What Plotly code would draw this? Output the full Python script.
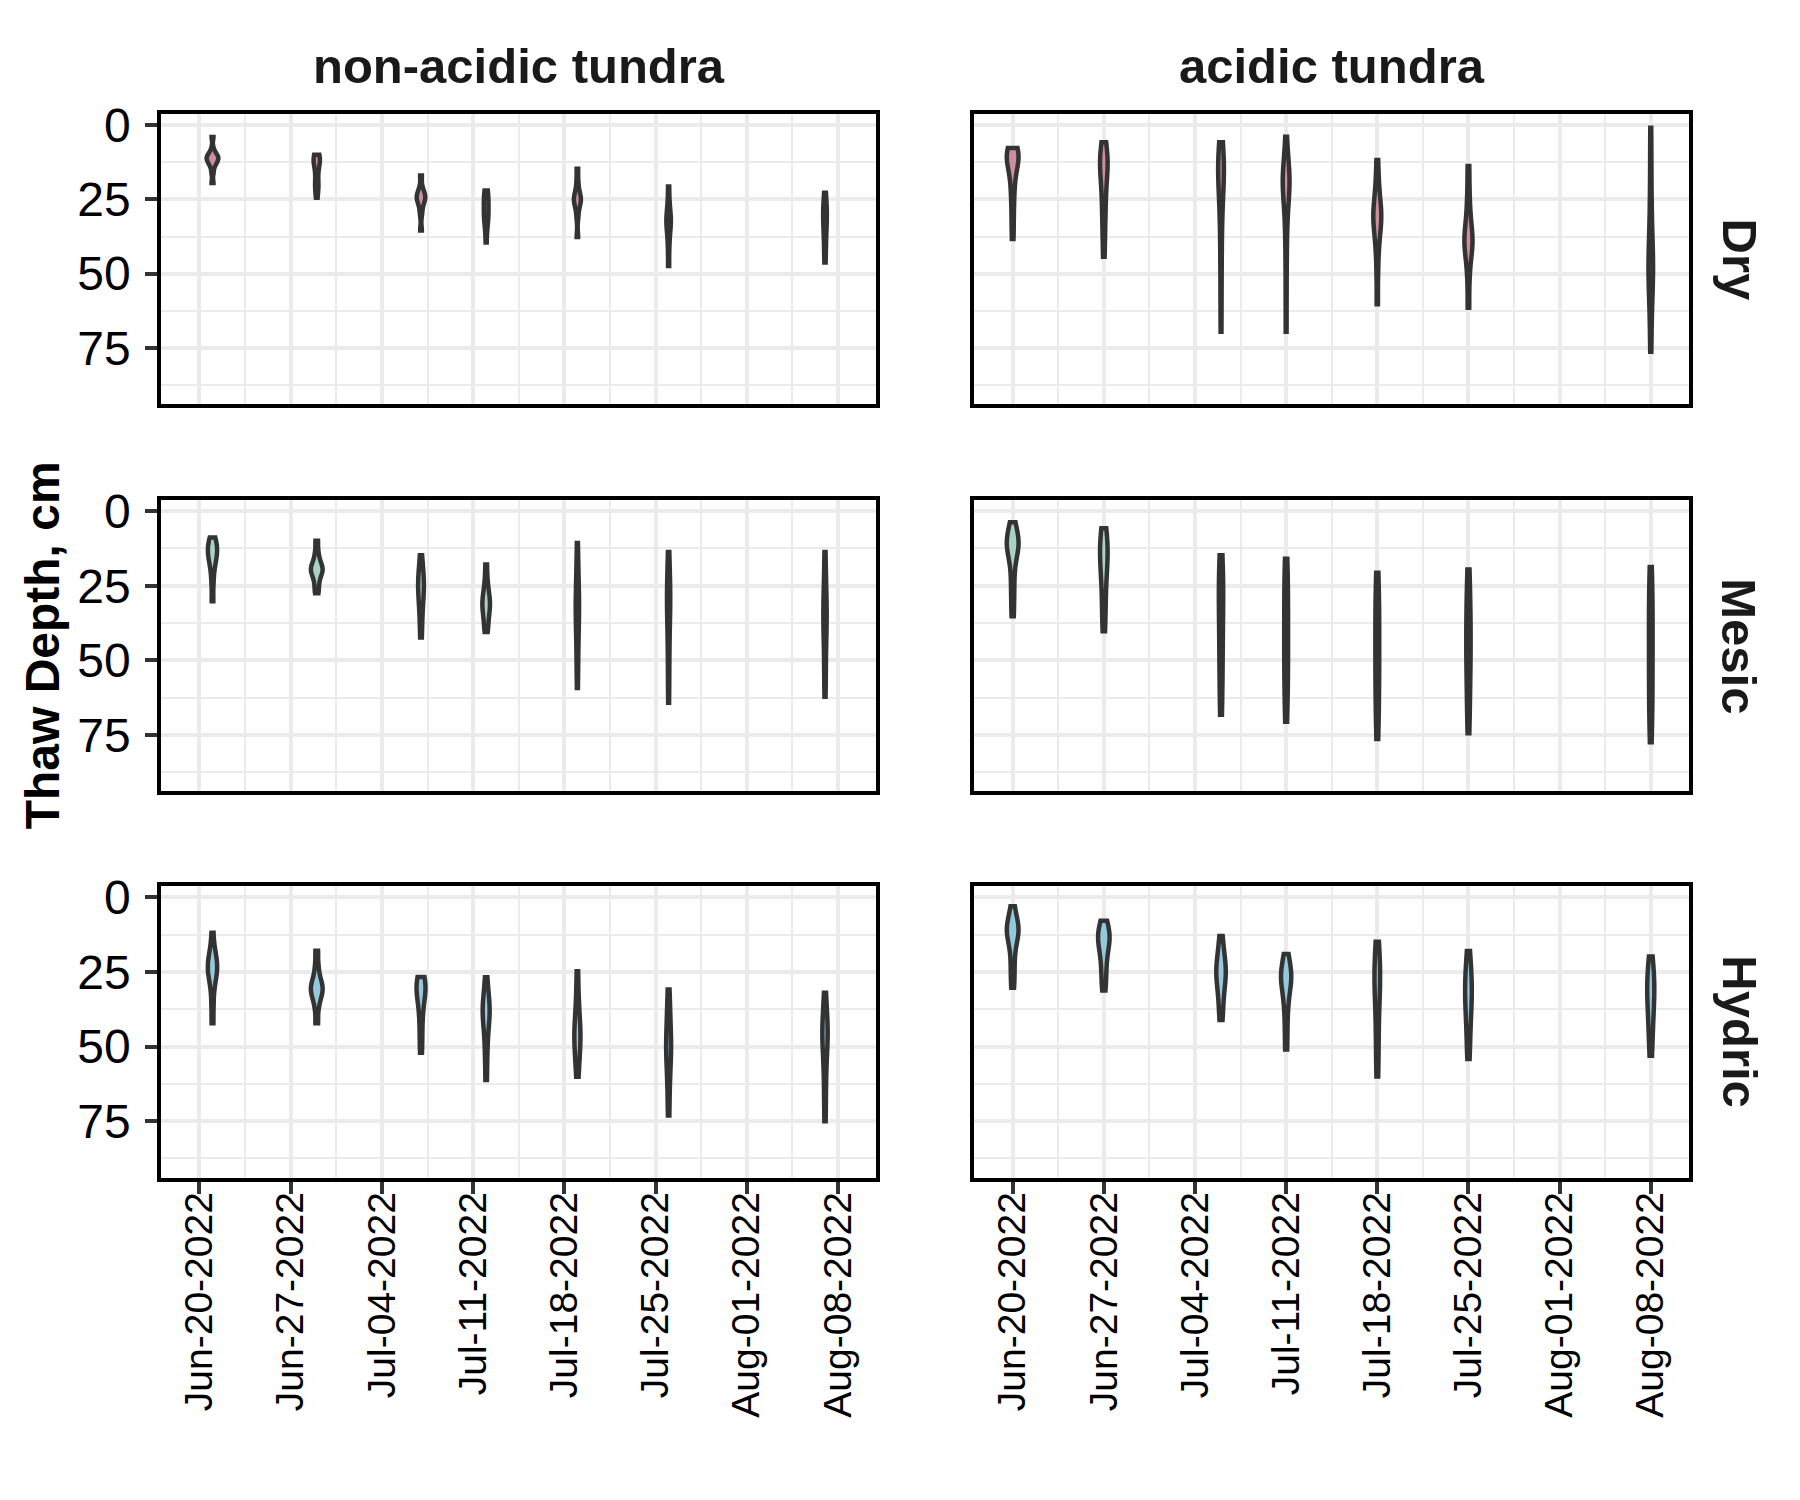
import numpy as np
import plotly.graph_objects as go

# Thaw depth (cm) per sampling date.
# Columns: non-acidic tundra (left) and acidic tundra (right); rows: Dry, Mesic, Hydric.

dates_nonacidic = ["2022-06-21", "2022-06-29", "2022-07-07", "2022-07-12",
                   "2022-07-19", "2022-07-26", "2022-08-07"]
dates_acidic = ["2022-06-20", "2022-06-27", "2022-07-06", "2022-07-11",
                "2022-07-18", "2022-07-25", "2022-08-08"]

dry_nonacidic = [
    [4, 8, 9.5, 10, 10.5, 11, 11, 11.5, 12, 12.5, 13, 14, 16, 19.5],
    [10, 10.5, 11, 11, 11.5, 12, 12.5, 13, 14, 17, 19, 20, 21, 22, 24.5],
    [17, 21, 22.5, 23.5, 24, 24.5, 25, 26, 27.5, 30, 35.5],
    [22, 23, 24, 25.5, 27, 28.5, 30, 31, 32.5, 34, 39.5],
    [14.7, 19, 22, 23.5, 24.5, 25, 25.5, 26.5, 28, 31, 37.7],
    [20.7, 26, 29, 31, 32, 33, 34.5, 37, 41, 47.4],
    [22.8, 26, 28, 29.5, 31, 33, 35, 38, 42, 46.2],
]
dry_acidic = [
    [7.7, 8, 8.5, 9, 9.5, 10, 10.5, 11, 12, 13, 14, 16, 18, 21, 24, 28, 33, 38.3],
    [5.8, 9, 10, 11, 11.5, 12, 13, 14, 16, 18, 21, 24, 27, 30, 34, 39, 44.3],
    [5.8, 8, 10, 12, 13, 14, 15, 17, 19, 21, 24, 28, 33, 40, 48, 58, 69.5],
    [3.9, 10, 13, 15, 16.5, 18, 19, 20, 21, 22.5, 25, 28, 32, 38, 46, 57, 69.5],
    [11.8, 18, 22, 25, 27, 29, 30, 31, 32.5, 34, 36, 39, 43, 50, 60.3],
    [13.8, 22, 28, 32, 35, 37, 38.5, 39.5, 41, 43, 46, 52, 61.5],
    [0.9, 12, 22, 30, 36, 40, 44, 46, 48, 50, 52, 55, 60, 67, 76.3],
]
mesic_nonacidic = [
    [8.8, 10, 11, 12, 13, 14, 15, 16, 17.5, 20, 24, 30.2],
    [9.9, 14, 16.5, 18, 19, 19.5, 20, 21, 22.5, 25, 27.5],
    [14.8, 19, 21, 23, 24.5, 26, 28, 30, 33, 37, 42.3],
    [17.9, 23, 26, 28, 29.5, 30.5, 31.5, 32.5, 34, 36, 38.5, 40.5],
    [10.7, 18, 23, 27, 30, 32, 34, 37, 41, 46, 52, 59.2],
    [13.7, 19, 23, 26, 28, 30, 32, 35, 39, 44, 50, 57, 64.2],
    [13.7, 20, 25, 29, 32, 34, 36, 38, 41, 45, 51, 56, 62.2],
]
mesic_acidic = [
    [3.7, 6, 8, 9.5, 10.5, 11, 12, 13.5, 15.5, 19, 24, 29, 35.2],
    [5.7, 8, 10, 12, 14, 16, 18, 21, 25, 30, 35, 40.2],
    [14.8, 17, 21, 23, 27, 29, 33, 35, 41, 44, 49, 52, 59, 63, 68.2],
    [15.9, 19, 24, 27, 32, 35, 41, 44, 47, 53, 55, 61, 64, 70.5],
    [20.6, 24, 30, 33, 36, 42, 44, 50, 53, 56, 62, 65, 71, 76.3],
    [19.5, 23, 29, 32, 35, 39, 43, 45, 47, 52, 55, 58, 65, 68, 74.4],
    [18.7, 24, 27, 30, 36, 38, 43, 46, 52, 54, 60, 62, 68, 71, 77.4],
]
hydric_nonacidic = [
    [11.9, 17, 19, 20.5, 22, 23, 24, 25, 26.5, 28, 31, 36, 42.2],
    [17.9, 23, 26.5, 28.5, 29.5, 30.5, 31.5, 32.5, 34, 37, 42.2],
    [26.7, 27.5, 28.5, 29.5, 30.5, 31.5, 33, 35, 38, 42, 47, 52.1],
    [26.8, 31, 34, 36, 37.5, 38.5, 40, 42, 45, 49, 54, 61.2],
    [24.8, 32, 37, 40, 43, 45, 46.5, 48, 50, 53, 56, 60.1],
    [30.9, 36, 40, 44, 47, 49, 51, 53, 56, 60, 66, 73.1],
    [32, 37, 40.5, 43, 45, 46.5, 48, 51, 55, 60, 67, 75],
]
hydric_acidic = [
    [3, 6, 8, 9.5, 10.5, 11, 12, 13.5, 15, 18, 22, 26, 30.3],
    [7.9, 10, 11.5, 12.5, 13.5, 14.5, 16, 18, 20.5, 24, 27.5, 31.2],
    [13, 17, 20, 22, 23.5, 25, 26.5, 28, 30.5, 33, 37, 41.1],
    [19, 22, 24, 25.5, 26.5, 27.5, 29, 31, 34, 38, 44, 51],
    [14.9, 18, 21, 24, 26, 28, 30, 33, 37, 42, 48, 54, 60],
    [18, 22, 25, 28, 30, 32, 34.5, 37, 40, 44, 49, 54.2],
    [19.8, 23, 26, 28, 30, 32, 34.5, 37, 40, 43.5, 48, 53.1],
]

moisture = ["Dry", "Mesic", "Hydric"]
tundra = ["non-acidic tundra", "acidic tundra"]
fill_colors = ["#cc8e9c", "#a8d3c4", "#94c8dc"]

week_ticks = ["2022-06-20", "2022-06-27", "2022-07-04", "2022-07-11",
              "2022-07-18", "2022-07-25", "2022-08-01", "2022-08-08"]
week_labels = ["Jun-20-2022", "Jun-27-2022", "Jul-04-2022", "Jul-11-2022",
               "Jul-18-2022", "Jul-25-2022", "Aug-01-2022", "Aug-08-2022"]
week_minor = ["2022-06-23 12:00", "2022-06-30 12:00", "2022-07-07 12:00",
              "2022-07-14 12:00", "2022-07-21 12:00", "2022-07-28 12:00",
              "2022-08-04 12:00"]

panels = [
    [dry_nonacidic, dry_acidic],
    [mesic_nonacidic, mesic_acidic],
    [hydric_nonacidic, hydric_acidic],
]
panel_dates = [dates_nonacidic, dates_acidic]


def kde_peak(vals):
    # bw.nrd0 like ggplot, peak of gaussian kde over [min, max]
    v = np.asarray(vals, float)
    n = len(v)
    q75, q25 = np.percentile(v, [75, 25])
    bw = 0.9 * min(v.std(ddof=1), (q75 - q25) / 1.34) * n ** -0.2
    grid = np.linspace(v.min(), v.max(), 400)
    dens = np.exp(-0.5 * ((grid[:, None] - v[None, :]) / bw) ** 2).sum(1)
    dens = dens / (n * bw * np.sqrt(2 * np.pi))
    return bw, dens.max()


DAY_MS = 86400000
fig = go.Figure()

x_dom = [[0.0851, 0.4824], [0.5369, 0.9339]]
y_dom = [[0.7433, 0.9387], [0.4825, 0.6787], [0.2225, 0.4187]]

for r in range(3):
    for c in range(2):
        idx = r * 2 + c + 1
        groups = panels[r][c]
        stats = [kde_peak(g) for g in groups]
        top = max(s[1] for s in stats)
        for g, d, (bw, pk) in zip(groups, panel_dates[c], stats):
            fig.add_trace(go.Violin(
                x=[d] * len(g), y=g,
                xaxis="x%d" % idx, yaxis="y%d" % idx,
                bandwidth=bw, spanmode="hard",
                scalemode="width", width=0.9 * DAY_MS * pk / top,
                fillcolor=fill_colors[r], opacity=1,
                line=dict(color="#333333", width=4.5),
                points=False, box_visible=False, meanline_visible=False,
                hoverinfo="skip", showlegend=False,
            ))

        xa = dict(
            domain=x_dom[c], anchor="y%d" % idx, type="date",
            range=["2022-06-17 01:30", "2022-08-10 22:30"],
            tickvals=week_ticks, ticktext=week_labels, tickangle=-90,
            showgrid=True, gridcolor="#ebebeb", gridwidth=3.5,
            minor=dict(tickvals=week_minor, showgrid=True,
                       gridcolor="#ebebeb", gridwidth=2),
            showline=True, mirror=True, linecolor="black", linewidth=4,
            zeroline=False,
            tickfont=dict(size=39, color="black"),
        )
        if r == 2:
            xa.update(ticks="outside", ticklen=12, tickwidth=3.5,
                      tickcolor="#333333", showticklabels=True,
                      ticklabelstandoff=-17)
        else:
            xa.update(ticks="", showticklabels=False)

        ya = dict(
            domain=y_dom[r], anchor="x%d" % idx,
            range=[93.9, -3.7], tickvals=[0, 25, 50, 75],
            showgrid=True, gridcolor="#ebebeb", gridwidth=3.5,
            minor=dict(tickvals=[12.5, 37.5, 62.5, 87.5], showgrid=True,
                       gridcolor="#ebebeb", gridwidth=2),
            showline=True, mirror=True, linecolor="black", linewidth=4,
            zeroline=False,
            tickfont=dict(size=48, color="black"),
        )
        if c == 0:
            ya.update(ticks="outside", ticklen=12, tickwidth=3.5,
                      tickcolor="#333333", showticklabels=True,
                      ticklabelstandoff=5)
        else:
            ya.update(ticks="", showticklabels=False)

        key = "" if idx == 1 else str(idx)
        fig.layout["xaxis" + key] = xa
        fig.layout["yaxis" + key] = ya

annotations = []
for c, name in enumerate(tundra):
    annotations.append(dict(
        text="<b>%s</b>" % name, x=sum(x_dom[c]) / 2, y=0.971,
        xref="paper", yref="paper", showarrow=False,
        xanchor="center", yanchor="middle",
        font=dict(size=49, color="#1a1a1a"),
    ))
for r, name in enumerate(moisture):
    annotations.append(dict(
        text="<b>%s</b>" % name, x=0.962, y=sum(y_dom[r]) / 2,
        xref="paper", yref="paper", showarrow=False, textangle=90,
        xanchor="center", yanchor="middle",
        font=dict(size=49, color="#1a1a1a"),
    ))
annotations.append(dict(
    text="<b>Thaw Depth, cm</b>", x=0.0192, y=sum(y_dom[1]) / 2,
    xref="paper", yref="paper", showarrow=False, textangle=-90,
    xanchor="center", yanchor="middle",
    font=dict(size=48, color="black"),
))

fig.update_layout(
    width=1800, height=1500,
    margin=dict(l=0, r=0, t=0, b=0),
    paper_bgcolor="white", plot_bgcolor="white",
    violinmode="overlay", showlegend=False,
    font=dict(family="Liberation Sans, Arial, sans-serif", color="black"),
    annotations=annotations,
)

fig.write_html("out.html")
